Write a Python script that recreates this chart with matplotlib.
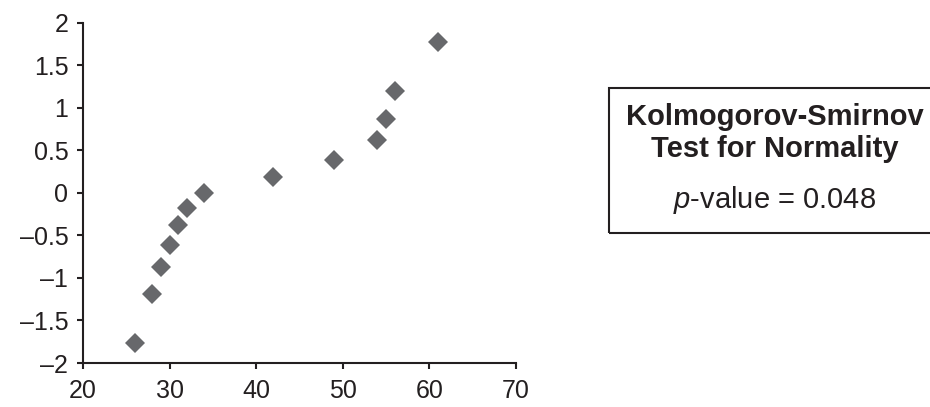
import matplotlib
matplotlib.use('Agg')
import matplotlib.pyplot as plt
from matplotlib.patches import Rectangle

plt.rcParams['font.family'] = ['Liberation Sans', 'DejaVu Sans']
plt.rcParams['mathtext.fontset'] = 'custom'
plt.rcParams['mathtext.rm'] = 'Liberation Sans'
plt.rcParams['mathtext.it'] = 'Liberation Sans:italic'

# observed values vs normal scores
values = [26, 28, 29, 30, 31, 32, 34, 42, 49, 54, 55, 56, 61]
normal_scores = [-1.77, -1.19, -0.87, -0.61, -0.38, -0.18, 0.0, 0.19, 0.39, 0.62, 0.87, 1.20, 1.77]

x_ticks = [20, 30, 40, 50, 60, 70]
y_ticks = [-2, -1.5, -1, -0.5, 0, 0.5, 1, 1.5, 2]
y_labels = ['\u20132', '\u20131.5', '\u20131', '\u20130.5', '0', '0.5', '1', '1.5', '2']

box_title = 'Kolmogorov-Smirnov\nTest for Normality'
p_value = 0.048

dark = '#231f20'

fig = plt.figure(figsize=(9.3, 4.07), dpi=100)
ax = fig.add_axes([0.0892, 0.1081, 0.4656, 0.8361])

ax.plot(values, normal_scores, linestyle='none', marker='D', markersize=10.5,
        color='#67686b', markeredgewidth=0)

ax.set_xlim(20, 70)
ax.set_ylim(-2, 2)
ax.set_xticks(x_ticks)
ax.set_yticks(y_ticks)
ax.set_yticklabels(y_labels)
for s in ['top', 'right']:
    ax.spines[s].set_visible(False)
for s in ['left', 'bottom']:
    ax.spines[s].set_linewidth(1.5)
    ax.spines[s].set_color(dark)
ax.tick_params(direction='out', length=4.5, width=1.5, color=dark,
               labelsize=18, labelcolor=dark)
ax.tick_params(axis='x', pad=7)
ax.tick_params(axis='y', pad=6)

# stats box (runs off the right edge like the original)
W, H = 930, 407
box = Rectangle((609 / W, 1 - 233 / H), (940 - 609) / W, (233 - 88) / H,
                transform=fig.transFigure, fill=False, edgecolor=dark,
                linewidth=1.5, clip_on=False)
fig.patches.append(box)
fig.text(775 / W, 1 - 133 / H, box_title, ha='center', va='center',
         fontsize=21, fontweight='bold', color=dark, linespacing=1.2)
fig.text(775 / W, 1 - 200 / H, '$p$-value = %.3f' % p_value, ha='center',
         va='center', fontsize=21, color=dark)

fig.savefig('out.png', dpi=100)
